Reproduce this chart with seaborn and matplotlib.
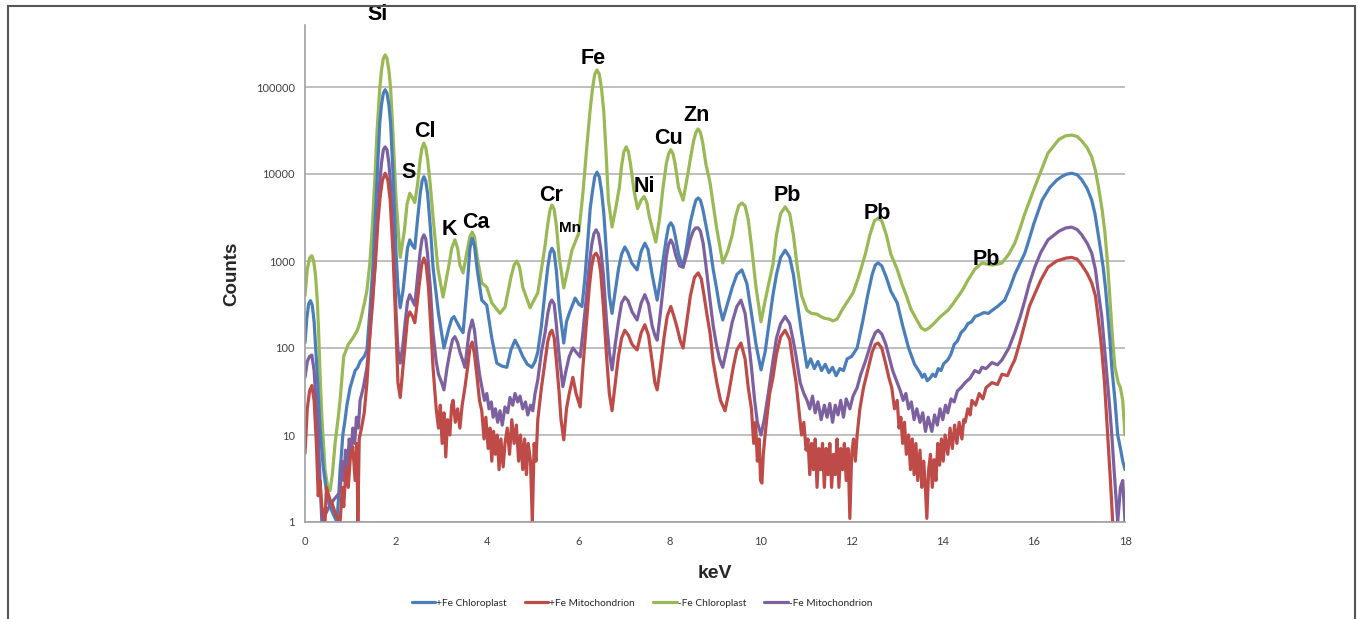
import pandas as pd
import matplotlib
matplotlib.use("Agg")
import matplotlib.pyplot as plt
import matplotlib.patches as mpatches
import seaborn as sns

# ---- spectra: (keV, counts) ----
fe_chloroplast = [
    (0.00, 115), (0.04, 220), (0.08, 320), (0.12, 350), (0.16, 310), (0.20, 200), (0.26, 60), (0.33, 12),
    (0.40, 4.3), (0.46, 2.5), (0.53, 1.6), (0.60, 1.3), (0.70, 1), (0.74, 2), (0.77, 4), (0.80, 6), (0.83, 10),
    (0.88, 15), (0.92, 22), (0.99, 35), (1.05, 45), (1.10, 55), (1.16, 60), (1.21, 70), (1.30, 80), (1.36, 95),
    (1.42, 250), (1.49, 850), (1.56, 5000), (1.64, 38000), (1.68, 63000), (1.72, 85000), (1.76, 93000),
    (1.80, 85000), (1.84, 63000), (1.88, 38000), (1.94, 8000), (2.00, 1200), (2.04, 500), (2.09, 290),
    (2.15, 450), (2.20, 800), (2.25, 1400), (2.30, 1750), (2.36, 1500), (2.41, 1400), (2.47, 3000),
    (2.53, 6000), (2.57, 8300), (2.61, 9300), (2.65, 8300), (2.69, 6000), (2.75, 2500), (2.81, 850),
    (2.93, 250), (3.05, 100), (3.16, 170), (3.22, 215), (3.27, 230), (3.33, 200), (3.40, 170), (3.47, 150),
    (3.57, 600), (3.62, 1400), (3.67, 1830), (3.72, 1500), (3.78, 800), (3.88, 355), (3.99, 310), (4.10, 130),
    (4.21, 67), (4.32, 62), (4.43, 60), (4.52, 95), (4.61, 123), (4.70, 100), (4.78, 80), (4.88, 65), (4.98, 60),
    (5.05, 70), (5.11, 90), (5.19, 180), (5.27, 450), (5.33, 850), (5.38, 1250), (5.42, 1400), (5.47, 1250),
    (5.52, 750), (5.58, 300), (5.68, 114), (5.74, 200), (5.80, 250), (5.93, 375), (6.01, 320), (6.08, 300),
    (6.14, 600), (6.20, 1500), (6.26, 4000), (6.31, 6300), (6.36, 9300), (6.41, 10500), (6.46, 9300),
    (6.51, 6300), (6.56, 3500), (6.62, 1200), (6.68, 400), (6.74, 250), (6.81, 450), (6.88, 800), (6.95, 1200),
    (7.02, 1450), (7.09, 1250), (7.17, 950), (7.29, 790), (7.38, 1300), (7.46, 1600), (7.53, 1350), (7.62, 700),
    (7.73, 355), (7.80, 600), (7.88, 1200), (7.93, 1800), (7.98, 2500), (8.03, 2750), (8.08, 2500), (8.13, 1900),
    (8.20, 1200), (8.30, 850), (8.38, 1500), (8.46, 2800), (8.53, 4000), (8.58, 5000), (8.63, 5300),
    (8.68, 5000), (8.73, 4000), (8.80, 2600), (8.89, 1450), (8.96, 800), (9.03, 500), (9.10, 300), (9.17, 210),
    (9.28, 330), (9.38, 500), (9.48, 700), (9.59, 790), (9.70, 550), (9.80, 250), (9.90, 110), (10.01, 56),
    (10.10, 90), (10.18, 180), (10.27, 400), (10.35, 700), (10.44, 1100), (10.54, 1330), (10.64, 1100),
    (10.72, 700), (10.80, 350), (10.90, 150), (11.02, 60), (11.10, 75), (11.18, 58), (11.26, 70), (11.34, 55),
    (11.42, 65), (11.50, 52), (11.58, 60), (11.66, 48), (11.74, 58), (11.82, 55), (11.90, 75), (12.00, 80),
    (12.12, 100), (12.24, 200), (12.35, 400), (12.45, 700), (12.52, 900), (12.58, 950), (12.66, 880),
    (12.76, 650), (12.86, 450), (13.00, 330), (13.12, 180), (13.25, 100), (13.38, 65), (13.44, 58), (13.50, 52),
    (13.55, 46), (13.60, 50), (13.66, 42), (13.72, 45), (13.78, 50), (13.84, 47), (13.90, 58), (13.96, 55),
    (14.02, 66), (14.11, 73), (14.18, 85), (14.25, 110), (14.32, 120), (14.40, 150), (14.48, 165), (14.55, 190),
    (14.63, 200), (14.71, 230), (14.80, 240), (14.90, 255), (15.00, 250), (15.08, 270), (15.20, 300),
    (15.36, 355), (15.48, 500), (15.58, 700), (15.70, 950), (15.80, 1230), (15.90, 1800), (16.00, 2700),
    (16.18, 5000), (16.35, 7000), (16.50, 8500), (16.62, 9400), (16.72, 9950), (16.83, 10200), (16.95, 9800),
    (17.05, 8600), (17.17, 6800), (17.27, 5000), (17.34, 3500), (17.40, 2200), (17.46, 1400), (17.52, 850),
    (17.57, 500), (17.62, 250), (17.67, 120), (17.71, 60), (17.78, 25), (17.84, 10), (17.90, 7), (17.95, 5),
    (18.00, 4),
]

fe_mitochondrion = [
    (0.00, 6.2), (0.05, 20), (0.10, 32), (0.15, 37), (0.20, 25), (0.25, 8), (0.29, 2), (0.33, 3), (0.37, 1.5),
    (0.44, 1), (0.47, 2.5), (0.50, 2.2), (0.55, 1.8), (0.60, 1.6), (0.68, 1.2), (0.77, 1), (0.82, 2.5),
    (0.85, 1.5), (0.90, 4.3), (0.95, 2.5), (1.00, 6), (1.05, 7.3), (1.10, 3), (1.14, 8), (1.16, 1), (1.19, 9),
    (1.24, 12), (1.30, 18), (1.36, 40), (1.45, 250), (1.54, 850), (1.60, 2800), (1.65, 5500), (1.70, 8500),
    (1.76, 10200), (1.82, 8500), (1.87, 5000), (1.93, 1300), (2.00, 150), (2.04, 40), (2.09, 27), (2.15, 60),
    (2.20, 120), (2.25, 220), (2.30, 260), (2.36, 230), (2.41, 195), (2.46, 320), (2.51, 550), (2.56, 900),
    (2.61, 1080), (2.66, 900), (2.71, 500), (2.76, 180), (2.81, 60), (2.88, 20), (2.93, 12), (2.97, 22),
    (3.01, 8), (3.05, 18), (3.09, 5.6), (3.13, 15), (3.18, 10), (3.22, 22), (3.25, 25), (3.30, 14), (3.35, 20),
    (3.40, 12), (3.45, 22), (3.51, 35), (3.57, 60), (3.62, 100), (3.67, 117), (3.72, 85), (3.78, 45),
    (3.83, 25), (3.88, 19), (3.93, 9), (3.97, 16), (4.02, 7), (4.06, 12), (4.10, 5), (4.14, 11), (4.18, 6),
    (4.22, 10), (4.26, 4), (4.30, 9), (4.35, 4.3), (4.39, 8), (4.44, 12), (4.49, 6), (4.54, 15), (4.59, 8),
    (4.64, 13), (4.69, 5), (4.73, 10), (4.78, 4), (4.82, 9), (4.86, 3.5), (4.90, 8), (4.95, 5), (4.99, 1),
    (5.03, 8), (5.07, 5), (5.11, 15), (5.19, 35), (5.27, 70), (5.33, 120), (5.38, 150), (5.42, 160),
    (5.47, 130), (5.52, 70), (5.58, 30), (5.62, 15), (5.68, 8.8), (5.74, 20), (5.80, 30), (5.88, 46), (5.95, 30),
    (6.04, 21), (6.10, 60), (6.18, 200), (6.24, 500), (6.29, 850), (6.34, 1150), (6.39, 1230), (6.44, 1100),
    (6.49, 750), (6.55, 300), (6.62, 80), (6.68, 30), (6.74, 19), (6.80, 35), (6.88, 80), (6.95, 130),
    (7.02, 160), (7.10, 140), (7.18, 110), (7.29, 95), (7.38, 150), (7.46, 185), (7.54, 140), (7.62, 70),
    (7.68, 40), (7.73, 33), (7.80, 60), (7.88, 130), (7.95, 230), (8.03, 300), (8.10, 230), (8.17, 170),
    (8.24, 120), (8.30, 100), (8.38, 200), (8.46, 400), (8.55, 650), (8.63, 730), (8.70, 620), (8.76, 400),
    (8.83, 230), (8.89, 150), (8.96, 70), (9.04, 40), (9.12, 25), (9.22, 19), (9.30, 30), (9.40, 60),
    (9.48, 95), (9.57, 114), (9.66, 75), (9.73, 35), (9.80, 20), (9.85, 8), (9.89, 14), (9.93, 5), (9.97, 9),
    (10.00, 3), (10.03, 2.8), (10.06, 6), (10.10, 10), (10.15, 18), (10.20, 30), (10.27, 45), (10.35, 85),
    (10.44, 135), (10.54, 160), (10.64, 125), (10.70, 75), (10.78, 40), (10.85, 18), (10.90, 10), (10.95, 14),
    (11.00, 6.7), (11.04, 9), (11.08, 3.5), (11.12, 8), (11.16, 4), (11.20, 9), (11.24, 2.5), (11.28, 7),
    (11.32, 4), (11.36, 8), (11.40, 2.5), (11.44, 7), (11.48, 3.5), (11.52, 8), (11.56, 2.5), (11.60, 6),
    (11.64, 3.5), (11.68, 9), (11.72, 2.5), (11.76, 7), (11.80, 4), (11.84, 8), (11.88, 3), (11.92, 7),
    (11.96, 1.1), (12.00, 6), (12.04, 9), (12.08, 5), (12.12, 10), (12.18, 20), (12.26, 35), (12.35, 55),
    (12.45, 90), (12.52, 110), (12.58, 114), (12.66, 100), (12.75, 65), (12.82, 45), (12.88, 35), (12.94, 20),
    (13.00, 25), (13.04, 12), (13.08, 16), (13.12, 8), (13.16, 14), (13.20, 6), (13.25, 10), (13.29, 4),
    (13.33, 9), (13.37, 3.5), (13.41, 8), (13.45, 3), (13.50, 6.7), (13.54, 2.5), (13.58, 5), (13.61, 3),
    (13.65, 1.1), (13.69, 4), (13.73, 6), (13.77, 2.5), (13.81, 5.2), (13.85, 3), (13.89, 8), (13.93, 4.5),
    (13.97, 9), (14.01, 5), (14.05, 10), (14.11, 6), (14.16, 12), (14.21, 7), (14.26, 13), (14.31, 8),
    (14.36, 14), (14.42, 9), (14.46, 15), (14.49, 14), (14.55, 20), (14.60, 17), (14.64, 25), (14.72, 22),
    (14.80, 30), (14.88, 26), (14.95, 35), (15.08, 40), (15.20, 38), (15.30, 50), (15.42, 48), (15.50, 60),
    (15.58, 73), (15.70, 120), (15.80, 190), (15.90, 300), (16.02, 420), (16.15, 600), (16.31, 850),
    (16.50, 1000), (16.70, 1080), (16.83, 1100), (16.95, 1050), (17.05, 900), (17.17, 720), (17.27, 560),
    (17.35, 400), (17.40, 250), (17.45, 150), (17.49, 95), (17.55, 40), (17.62, 10), (17.68, 3), (17.73, 1),
    (17.80, 0.6),
]

nofe_chloroplast = [
    (0.00, 400), (0.05, 800), (0.10, 1080), (0.15, 1150), (0.19, 1000), (0.23, 700), (0.27, 350), (0.30, 150),
    (0.33, 50), (0.37, 16), (0.44, 4), (0.50, 2.5), (0.55, 2.3), (0.60, 3.5), (0.66, 8), (0.73, 16), (0.77, 25),
    (0.85, 80), (0.95, 110), (1.05, 130), (1.15, 160), (1.21, 200), (1.30, 320), (1.36, 460), (1.42, 900),
    (1.47, 2100), (1.53, 8000), (1.58, 30000), (1.64, 95000), (1.68, 158000), (1.72, 213000), (1.76, 234000),
    (1.80, 213000), (1.84, 158000), (1.88, 95000), (1.93, 30000), (2.00, 5000), (2.09, 1100), (2.18, 2200),
    (2.24, 4500), (2.30, 6000), (2.36, 5300), (2.41, 4700), (2.47, 7500), (2.53, 15000), (2.57, 20000),
    (2.61, 22700), (2.65, 20000), (2.69, 15000), (2.75, 7500), (2.81, 3200), (2.92, 800), (3.03, 385),
    (3.16, 900), (3.22, 1400), (3.29, 1750), (3.35, 1400), (3.40, 900), (3.47, 730), (3.57, 1400), (3.62, 1900),
    (3.67, 2150), (3.72, 1900), (3.78, 1100), (3.88, 560), (3.99, 500), (4.10, 330), (4.28, 250), (4.39, 295),
    (4.52, 650), (4.59, 900), (4.65, 1000), (4.71, 850), (4.78, 500), (4.94, 290), (5.11, 430), (5.27, 1500),
    (5.33, 2700), (5.38, 3900), (5.42, 4400), (5.47, 3900), (5.52, 2500), (5.58, 1100), (5.68, 490),
    (5.86, 1330), (6.01, 2100), (6.10, 6000), (6.20, 25000), (6.26, 55000), (6.31, 95000), (6.36, 140000),
    (6.41, 157000), (6.46, 140000), (6.51, 95000), (6.56, 51000), (6.61, 17000), (6.66, 5000), (6.74, 2460),
    (6.82, 4000), (6.90, 7000), (6.95, 12500), (7.00, 18000), (7.05, 20500), (7.10, 18000), (7.15, 12500),
    (7.22, 6500), (7.30, 4000), (7.38, 5000), (7.44, 5500), (7.50, 4800), (7.56, 3200), (7.70, 1650),
    (7.78, 3000), (7.86, 7000), (7.93, 13000), (7.98, 17000), (8.03, 19000), (8.08, 17000), (8.13, 12500),
    (8.20, 7000), (8.30, 5000), (8.38, 8500), (8.46, 15000), (8.53, 24000), (8.58, 30000), (8.63, 33000),
    (8.68, 30000), (8.73, 23000), (8.80, 13000), (8.89, 8000), (9.03, 2500), (9.17, 950), (9.28, 1300),
    (9.38, 2000), (9.45, 3200), (9.52, 4300), (9.59, 4650), (9.66, 4300), (9.73, 3000), (9.80, 1500),
    (9.90, 500), (10.01, 200), (10.10, 350), (10.18, 550), (10.27, 900), (10.35, 2000), (10.44, 3500),
    (10.54, 4200), (10.64, 3500), (10.72, 2000), (10.80, 900), (10.90, 400), (11.02, 270), (11.12, 250),
    (11.24, 245), (11.32, 230), (11.40, 220), (11.50, 215), (11.59, 205), (11.68, 215), (11.80, 280),
    (11.92, 350), (12.03, 430), (12.15, 650), (12.30, 1200), (12.40, 2000), (12.50, 2900), (12.58, 3100),
    (12.66, 2900), (12.76, 2000), (12.86, 1200), (13.00, 800), (13.10, 550), (13.20, 400), (13.30, 280),
    (13.43, 210), (13.53, 170), (13.61, 160), (13.70, 170), (13.80, 190), (13.95, 230), (14.11, 270),
    (14.22, 320), (14.35, 400), (14.45, 480), (14.55, 600), (14.70, 800), (14.86, 950), (14.97, 920),
    (15.08, 900), (15.20, 920), (15.30, 950), (15.45, 1200), (15.58, 1600), (15.70, 2400), (15.80, 3500),
    (16.02, 7100), (16.31, 17400), (16.55, 25000), (16.70, 27500), (16.83, 28000), (16.95, 27000),
    (17.05, 24000), (17.17, 20000), (17.27, 15700), (17.35, 11000), (17.42, 7000), (17.50, 3800),
    (17.56, 2100), (17.62, 900), (17.68, 300), (17.73, 120), (17.78, 60), (17.85, 40), (17.90, 35),
    (17.95, 25), (18.00, 10),
]

nofe_mitochondrion = [
    (0.00, 46), (0.05, 70), (0.10, 80), (0.15, 83), (0.20, 55), (0.25, 20), (0.29, 10), (0.33, 3), (0.37, 1),
    (0.50, 1.4), (0.63, 1.8), (0.77, 2.2), (0.81, 5), (0.85, 3), (0.89, 6.7), (0.93, 4), (0.97, 9), (1.01, 6),
    (1.05, 12), (1.09, 8), (1.13, 16), (1.17, 12), (1.21, 25), (1.28, 35), (1.36, 60), (1.43, 150), (1.49, 355),
    (1.56, 1500), (1.64, 8000), (1.68, 13500), (1.72, 19000), (1.76, 20500), (1.80, 19000), (1.84, 13500),
    (1.88, 7500), (1.94, 1500), (2.00, 250), (2.04, 95), (2.09, 67), (2.15, 110), (2.20, 200), (2.25, 340),
    (2.30, 410), (2.36, 350), (2.41, 310), (2.47, 650), (2.53, 1300), (2.57, 1800), (2.61, 2000), (2.65, 1800),
    (2.69, 1200), (2.75, 500), (2.81, 150), (2.88, 70), (2.93, 50), (3.00, 40), (3.05, 33), (3.12, 60),
    (3.18, 90), (3.24, 125), (3.29, 135), (3.35, 115), (3.40, 90), (3.47, 70), (3.51, 60), (3.60, 150),
    (3.67, 210), (3.72, 160), (3.78, 80), (3.83, 50), (3.88, 36), (3.94, 25), (3.99, 30), (4.04, 20), (4.09, 24),
    (4.13, 16), (4.18, 20), (4.23, 14), (4.28, 19), (4.33, 13), (4.39, 21), (4.45, 18), (4.50, 27), (4.56, 22),
    (4.61, 30), (4.67, 24), (4.72, 28), (4.78, 20), (4.84, 24), (4.89, 17), (4.95, 22), (5.00, 19), (5.05, 30),
    (5.11, 43), (5.19, 90), (5.27, 150), (5.33, 250), (5.38, 330), (5.42, 355), (5.47, 320), (5.52, 180),
    (5.58, 80), (5.66, 36), (5.73, 55), (5.80, 80), (5.88, 100), (5.95, 90), (6.04, 79), (6.10, 150),
    (6.18, 400), (6.24, 900), (6.29, 1500), (6.34, 2050), (6.39, 2280), (6.44, 2050), (6.49, 1400),
    (6.55, 700), (6.62, 200), (6.68, 90), (6.74, 56), (6.81, 110), (6.88, 200), (6.95, 330), (7.02, 385),
    (7.09, 350), (7.18, 260), (7.29, 210), (7.38, 330), (7.46, 410), (7.54, 320), (7.62, 180), (7.68, 140),
    (7.73, 123), (7.80, 250), (7.88, 600), (7.93, 1100), (7.98, 1550), (8.03, 1750), (8.08, 1550),
    (8.14, 1150), (8.22, 880), (8.30, 850), (8.38, 1200), (8.46, 1800), (8.53, 2250), (8.58, 2400),
    (8.63, 2400), (8.68, 2200), (8.74, 1600), (8.80, 900), (8.89, 355), (8.96, 180), (9.03, 110), (9.10, 75),
    (9.17, 60), (9.28, 110), (9.38, 200), (9.48, 300), (9.57, 355), (9.66, 250), (9.73, 130), (9.80, 60),
    (9.87, 25), (9.93, 14), (10.01, 10), (10.08, 15), (10.17, 30), (10.27, 70), (10.35, 130), (10.44, 190),
    (10.54, 230), (10.64, 190), (10.72, 120), (10.78, 80), (10.87, 40), (10.95, 30), (11.02, 25), (11.08, 20),
    (11.14, 28), (11.20, 18), (11.26, 24), (11.33, 15), (11.40, 22), (11.46, 16), (11.52, 23), (11.58, 14),
    (11.64, 22), (11.70, 17), (11.76, 25), (11.82, 16), (11.88, 26), (11.96, 20), (12.03, 28), (12.12, 35),
    (12.20, 50), (12.30, 70), (12.44, 120), (12.52, 150), (12.58, 160), (12.66, 145), (12.75, 110),
    (12.82, 80), (12.90, 55), (13.00, 40), (13.07, 32), (13.13, 25), (13.19, 30), (13.25, 20), (13.31, 24),
    (13.37, 15), (13.43, 20), (13.50, 14), (13.56, 18), (13.62, 11), (13.68, 16), (13.76, 11), (13.82, 17),
    (13.88, 13), (13.94, 20), (14.00, 15), (14.06, 22), (14.11, 18), (14.18, 26), (14.25, 24), (14.32, 32),
    (14.40, 35), (14.49, 40), (14.60, 45), (14.70, 55), (14.80, 52), (14.86, 60), (14.95, 58), (15.08, 68),
    (15.20, 64), (15.30, 73), (15.45, 100), (15.58, 150), (15.70, 230), (15.80, 350), (15.90, 550),
    (16.02, 850), (16.15, 1250), (16.31, 1750), (16.55, 2200), (16.70, 2400), (16.83, 2450), (16.95, 2300),
    (17.05, 2000), (17.17, 1600), (17.27, 1230), (17.35, 800), (17.40, 500), (17.49, 230), (17.55, 100),
    (17.60, 50), (17.66, 22), (17.71, 10), (17.76, 4), (17.84, 1), (17.90, 2.5), (17.95, 3), (18.00, 1),
]

series_names = ["+Fe Chloroplast", "+Fe Mitochondrion", "-Fe Chloroplast", "-Fe Mitochondrion"]
series_data = [fe_chloroplast, fe_mitochondrion, nofe_chloroplast, nofe_mitochondrion]
series_colors = ["#4a7ebb", "#be4b48", "#98b954", "#7d60a0"]

# element labels: (name, keV, counts) of the label centre
peak_labels = [
    ("Si", 1.60, 690000), ("S", 2.28, 10300), ("Cl", 2.63, 31000), ("K", 3.16, 2280),
    ("Ca", 3.75, 2800), ("Cr", 5.40, 5600), ("Mn", 5.82, 2400), ("Fe", 6.32, 215000),
    ("Ni", 7.46, 7100), ("Cu", 7.97, 25300), ("Zn", 8.60, 46500), ("Pb", 10.58, 5600),
    ("Pb", 12.56, 3470), ("Pb", 14.95, 1050),
]

frames = []
for name, pairs in zip(series_names, series_data):
    kev, counts = zip(*pairs)
    frames.append(pd.DataFrame({"keV": kev, "Counts": counts, "Series": name}))
df = pd.concat(frames, ignore_index=True)

sns.set_style("white")
plt.rcParams["font.family"] = ["Lato", "DejaVu Sans"]

fig = plt.figure(figsize=(13.58, 6.19), dpi=100)
ax = fig.add_axes([305 / 1358, 1 - 522 / 619, 820 / 1358, 497 / 619])

palette = dict(zip(series_names, series_colors))
# green at the back, red on top
for name in ["-Fe Chloroplast", "+Fe Chloroplast", "-Fe Mitochondrion", "+Fe Mitochondrion"]:
    sns.lineplot(data=df[df["Series"] == name], x="keV", y="Counts", color=palette[name],
                 estimator=None, sort=False, lw=2.3, ax=ax, label=name)

ax.set_yscale("log")
ax.set_xlim(0, 18)
ax.set_ylim(1, 10 ** ((522 - 25) / 87))
ax.set_xticks(range(0, 19, 2))
ax.set_yticks([1, 10, 100, 1000, 10000, 100000])
ax.set_yticklabels(["1", "10", "100", "1000", "10000", "100000"])
ax.minorticks_off()
ax.yaxis.grid(True, color="#b4b4b4", lw=1.2)
ax.xaxis.grid(False)
ax.set_axisbelow(True)
for side in ["top", "right"]:
    ax.spines[side].set_visible(False)
for side in ["left", "bottom"]:
    ax.spines[side].set_color("#a0a0a0")
    ax.spines[side].set_linewidth(1.2)
ax.tick_params(axis="both", which="major", direction="out", length=4, width=1,
               color="#a0a0a0", labelsize=8, labelcolor="#404040")
ax.tick_params(axis="x", pad=6)

ax.set_xlabel("keV", fontsize=14, fontweight="bold", family="Liberation Sans")
ax.set_ylabel("Counts", fontsize=13.5, fontweight="bold", family="Liberation Sans")
ax.xaxis.set_label_coords(0.5, (522 - 565) / 497)
ax.yaxis.set_label_coords((240 - 305) / 820, 0.5)

for name, kev, cnt in peak_labels:
    ax.text(kev, cnt, name, ha="center", va="center", clip_on=False,
            fontsize=11 if name == "Mn" else 15.5, fontweight="bold",
            family="Liberation Sans", color="black")

handles, labels = ax.get_legend_handles_labels()
ax.get_legend().remove()
order = [labels.index(n) for n in series_names]
fig.legend([handles[i] for i in order], series_names, loc="center", ncol=4,
           bbox_to_anchor=(642 / 1358, 1 - 603 / 619), frameon=False, fontsize=7.3,
           handlelength=2.3, handletextpad=0.1, columnspacing=1.8)

# outer frame of the figure panel
fig.add_artist(mpatches.Rectangle((8 / 1358, -0.05), (1355 - 8) / 1358, 1.05 - 6 / 619,
                                  transform=fig.transFigure, fill=False,
                                  edgecolor="#555555", lw=1.5))

fig.savefig("out.png", dpi=100)
